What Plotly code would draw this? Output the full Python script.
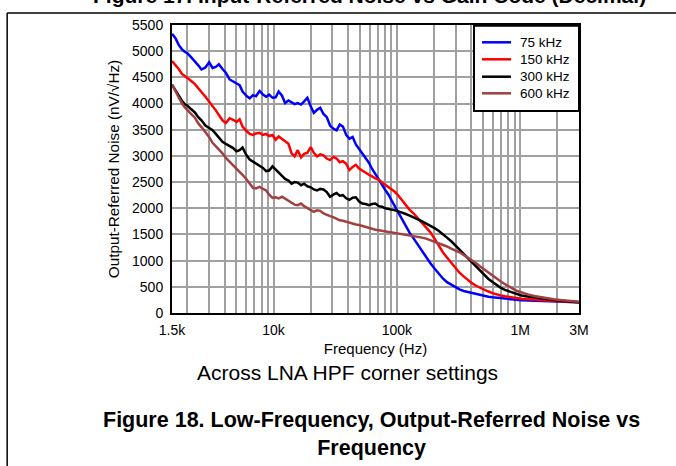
import plotly.graph_objects as go

freq_hz = [1500, 1600, 1700, 1800, 1900, 2000, 2150, 2300, 2450, 2600, 2800, 3000, 3200, 3400, 3600,
           3850, 4100, 4400, 4700, 5000, 5300, 5600, 6000, 6400, 6800, 7200, 7700, 8200, 8700, 9200,
           9800, 10400, 11000, 11700, 12400, 13200, 14000, 14800, 15700, 16700, 17700, 18800, 20000,
           21200, 22500, 23900, 25400, 27000, 28700, 30500, 32400, 34400, 36500, 38800, 41200, 43800,
           46500, 49400, 52500, 55800, 59300, 63000, 67000, 71200, 75700, 80500, 85600, 91000, 96700,
           103000, 110000, 118000, 127000, 137000, 148000, 160000, 173000, 187000, 202000, 218000,
           236000, 255000, 276000, 298000, 322000, 348000, 376000, 406000, 439000, 474000, 512000,
           553000, 597000, 645000, 697000, 753000, 813000, 878000, 948000, 1024000, 1150000, 1300000,
           1470000, 1660000, 1870000, 2110000, 2380000, 2690000, 3000000]

noise_75k = [5330, 5250, 5120, 5040, 4990, 4960, 4880, 4810, 4730, 4650, 4690, 4790, 4680, 4700, 4750,
             4660, 4590, 4460, 4420, 4390, 4350, 4230, 4150, 4100, 4160, 4140, 4240, 4170, 4130, 4170,
             4110, 4120, 4230, 4150, 4010, 4060, 4030, 3990, 4010, 3980, 4040, 4110, 3950,
             3820, 3880, 3920, 3800, 3740, 3580, 3520, 3490, 3600, 3560, 3400, 3330, 3360,
             3220, 3130, 3050, 2960, 2870, 2750, 2640, 2550, 2450, 2350, 2260, 2140, 2030,
             1920, 1800, 1650, 1530, 1420, 1300, 1170, 1070, 950, 850, 750,
             660, 590, 540, 490, 450, 420, 400, 375, 355, 340, 325,
             310, 300, 290, 280, 272, 265, 258, 250, 243, 238, 232,
             227, 222, 218, 214, 212, 208, 205]

noise_150k = [4810, 4740, 4660, 4570, 4530, 4490, 4430, 4370, 4300, 4220, 4130, 4040, 3960, 3870, 3780,
              3680, 3630, 3720, 3690, 3650, 3700, 3560, 3480, 3420, 3400, 3430, 3440, 3400, 3420, 3380,
              3400, 3310, 3370, 3330, 3280, 3230, 3050, 2990, 3110, 2970, 3040, 3060, 3170,
              3060, 2990, 3030, 3010, 2950, 2920, 2980, 2950, 2880, 2900, 2850, 2730, 2790,
              2830, 2760, 2720, 2670, 2640, 2610, 2570, 2550, 2490, 2450, 2400, 2350, 2310,
              2240, 2150, 2060, 1970, 1900, 1810, 1710, 1630, 1540, 1420, 1290,
              1160, 1060, 960, 860, 770, 700, 630, 570, 520, 480, 440,
              410, 380, 355, 335, 320, 305, 292, 282, 272, 262, 252,
              243, 236, 228, 222, 216, 210, 205]

noise_300k = [4360, 4250, 4140, 4060, 3990, 3960, 3890, 3830, 3740, 3680, 3580, 3530, 3490, 3420, 3360,
              3270, 3230, 3190, 3150, 3090, 3110, 3160, 3020, 2930, 2890, 2840, 2810, 2770, 2710, 2720,
              2800, 2740, 2690, 2620, 2560, 2530, 2470, 2500, 2490, 2440, 2470, 2420, 2400,
              2360, 2340, 2370, 2360, 2310, 2220, 2260, 2290, 2240, 2250, 2190, 2160, 2200,
              2210, 2130, 2090, 2080, 2060, 2080, 2090, 2040, 2030, 2000, 1990, 1980, 1960,
              1940, 1920, 1890, 1860, 1830, 1790, 1750, 1710, 1670, 1620, 1570,
              1510, 1440, 1370, 1290, 1200, 1120, 1040, 960, 880, 800, 720,
              650, 590, 530, 480, 440, 410, 380, 355, 335, 315, 295,
              278, 262, 248, 236, 225, 215, 205]

noise_600k = [4360, 4230, 4110, 4010, 3930, 3870, 3800, 3730, 3620, 3550, 3460, 3360, 3250, 3190, 3130,
              3050, 2960, 2890, 2820, 2760, 2700, 2640, 2560, 2460, 2390, 2380, 2410, 2370, 2340, 2260,
              2200, 2210, 2190, 2220, 2180, 2140, 2110, 2070, 2060, 2090, 2040, 2000, 1970,
              1930, 1960, 1950, 1900, 1870, 1850, 1830, 1800, 1770, 1760, 1740, 1720, 1710,
              1690, 1680, 1660, 1650, 1630, 1610, 1590, 1580, 1570, 1560, 1550, 1540, 1530,
              1510, 1500, 1490, 1480, 1470, 1460, 1440, 1420, 1390, 1370, 1340,
              1310, 1270, 1230, 1200, 1160, 1110, 1060, 1010, 950, 890, 830,
              770, 710, 650, 600, 550, 500, 460, 420, 390, 355, 325,
              300, 280, 262, 248, 236, 225, 215]

series_names = ["75 kHz", "150 kHz", "300 kHz", "600 kHz"]
series_colors = ["#0000ff", "#ff0000", "#000000", "#a04040"]
series_values = [noise_75k, noise_150k, noise_300k, noise_600k]

x_grid = [1500, 2000, 3000, 4000, 5000, 6000, 7000, 8000, 9000,
          10000, 20000, 30000, 40000, 50000, 60000, 70000, 80000, 90000,
          100000, 200000, 300000, 400000, 500000, 600000, 700000, 800000, 900000,
          1000000, 2000000, 3000000]
x_labels = {1500: "1.5k", 10000: "10k", 100000: "100k", 1000000: "1M", 3000000: "3M"}
x_ticktext = [x_labels.get(v, "") for v in x_grid]

y_ticks = list(range(0, 5501, 500))

FONT = "Liberation Sans, Arial, sans-serif"

fig = go.Figure()
for name, color, vals in zip(series_names, series_colors, series_values):
    fig.add_trace(go.Scatter(x=freq_hz, y=vals, mode="lines", name=name,
                             line=dict(color=color, width=2.5), showlegend=False))

fig.update_layout(
    width=676, height=466,
    margin=dict(l=172, r=97, t=25, b=153),
    paper_bgcolor="white", plot_bgcolor="white",
    font=dict(family=FONT, size=14, color="black"),
    showlegend=False,
)

fig.update_xaxes(type="log", range=[3.17609, 6.47712],
                 tickvals=x_grid, ticktext=x_ticktext, ticks="",
                 showgrid=True, gridcolor="#a0a0a0", gridwidth=1.5,
                 showline=True, mirror=True, linecolor="black", linewidth=2,
                 zeroline=False, tickfont=dict(size=14), ticklabelstandoff=3,
                 title=dict(text="Frequency (Hz)", font=dict(size=15), standoff=7))
fig.update_yaxes(range=[0, 5500], tickvals=y_ticks, ticks="",
                 showgrid=True, gridcolor="#a0a0a0", gridwidth=1.5,
                 showline=True, mirror=True, linecolor="black", linewidth=2,
                 zeroline=False, tickfont=dict(size=14), ticklabelstandoff=4,
                 title=dict(text="Output-Referred Noise (nV/\u221aHz)", font=dict(size=15.3), standoff=9))

# legend box (drawn manually to match the reference spacing)
fig.add_shape(type="rect", xref="paper", yref="paper", x0=0.742, x1=1.0, y0=0.7014, y1=0.997,
              fillcolor="white", line=dict(color="black", width=2), layer="above")
legend_rows_y = [0.9399, 0.8809, 0.8205, 0.7628]
for name, color, ly in zip(series_names, series_colors, legend_rows_y):
    fig.add_shape(type="line", xref="paper", yref="paper", x0=0.7617, x1=0.8329, y0=ly, y1=ly,
                  line=dict(color=color, width=2.5), layer="above")
    fig.add_annotation(text=name, xref="paper", yref="paper", x=0.8501, y=ly,
                       xanchor="left", yanchor="middle", showarrow=False,
                       font=dict(family=FONT, size=13.5, color="black"))

fig.add_annotation(text="Across LNA HPF corner settings", xref="paper", yref="paper",
                   x=0.431, y=-0.208, xanchor="center", yanchor="middle", showarrow=False,
                   font=dict(family=FONT, size=21))
fig.add_annotation(text="<b>Figure 18. Low-Frequency, Output-Referred Noise vs<br>Frequency</b>",
                   xref="paper", yref="paper", x=0.4914, y=-0.42, xanchor="center", yanchor="middle",
                   showarrow=False, font=dict(family=FONT, size=21.5))
fig.add_annotation(text="<b>Figure 17. Input-Referred Noise vs Gain Code (Decimal)</b>",
                   xref="paper", yref="paper", x=0.486, y=1.101, xanchor="center", yanchor="middle",
                   showarrow=False, font=dict(family=FONT, size=21))

fig.add_shape(type="line", xref="paper", yref="paper", x0=-0.405, x1=-0.405, y0=1.0417, y1=-0.56,
              line=dict(color="black", width=1.5))
fig.add_shape(type="line", xref="paper", yref="paper", x0=-0.405, x1=1.26, y0=1.0417, y1=1.0417,
              line=dict(color="black", width=1.5))

fig.write_html("out.html", config={"displayModeBar": False},
               post_script="document.body.style.margin='0px';")
